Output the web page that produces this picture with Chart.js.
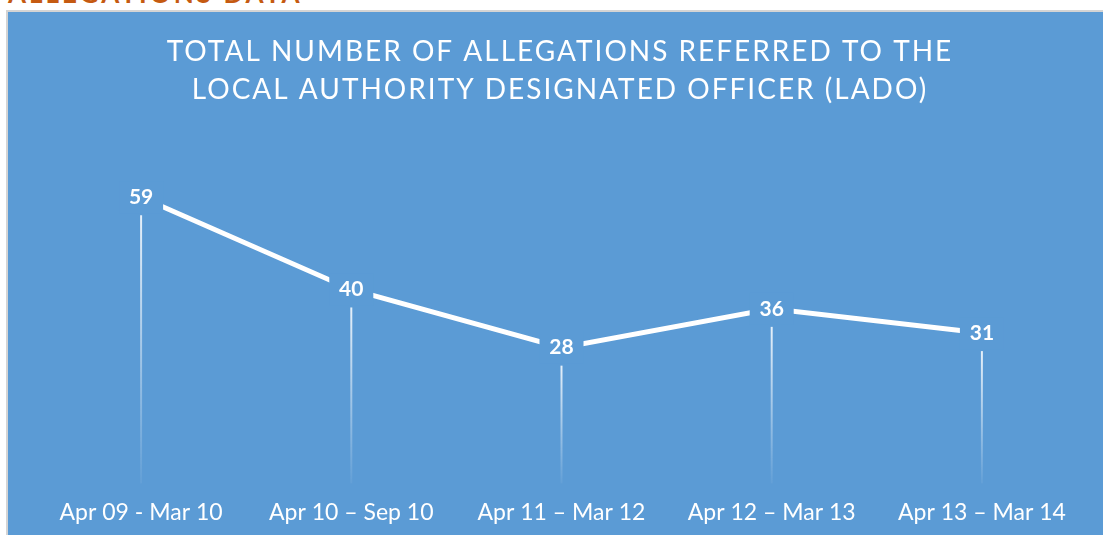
<!DOCTYPE html>
<html>
<head>
<meta charset="utf-8">
<script src="https://cdn.jsdelivr.net/npm/chart.js@4"></script>
<style>
    html, body { margin: 0; padding: 0; background: #fff; overflow: hidden; width: 1103px; height: 535px; }
    #heading { position: absolute; left: 8px; top: -20px; font: bold 26px Lato, sans-serif; line-height: 26px; color: #C55A11; letter-spacing: 3px; white-space: nowrap; }
    #box { position: absolute; left: 6px; top: 10px; width: 1110px; height: 540px; background: #5B9BD5; border-left: 2px solid #d4d4d4; border-top: 2px solid #d4d4d4; }
    #wrap { position: absolute; left: 8px; top: 12px; width: 1102px; height: 530px; }
</style>
</head>
<body>
<div id="heading">ALLEGATIONS DATA</div>
<div id="box"></div>
<div id="wrap"><canvas id="lado"></canvas></div>
<script>
const categories = ['Apr 09 - Mar 10', 'Apr 10 – Sep 10', 'Apr 11 – Mar 12', 'Apr 12 – Mar 13', 'Apr 13 – Mar 14'];
const allegations = [59, 40, 28, 36, 31];
const titleLines = ['TOTAL NUMBER OF ALLEGATIONS REFERRED TO THE', 'LOCAL AUTHORITY DESIGNATED OFFICER (LADO)'];
const BLUE = '#5B9BD5';

// drop lines from each point down to the axis, fading out
const dropLines = {
    id: 'dropLines',
    beforeDatasetsDraw(chart) {
        const ctx = chart.ctx;
        const bottom = chart.scales.y.getPixelForValue(0);
        chart.getDatasetMeta(0).data.forEach(pt => {
            const top = pt.y + 18;
            const grad = ctx.createLinearGradient(0, top, 0, bottom);
            grad.addColorStop(0, 'rgba(255,255,255,0.85)');
            grad.addColorStop(1, 'rgba(255,255,255,0.05)');
            ctx.save();
            ctx.strokeStyle = grad;
            ctx.lineWidth = 2;
            ctx.beginPath();
            ctx.moveTo(pt.x, top);
            ctx.lineTo(pt.x, bottom);
            ctx.stroke();
            ctx.restore();
        });
    }
};

// value labels sitting on the points, with a blue patch behind them
const valueLabels = {
    id: 'valueLabels',
    afterDatasetsDraw(chart) {
        const ctx = chart.ctx;
        const values = chart.data.datasets[0].data;
        ctx.save();
        ctx.font = 'bold 21px Lato, sans-serif';
        ctx.textAlign = 'center';
        ctx.textBaseline = 'middle';
        chart.getDatasetMeta(0).data.forEach((pt, i) => {
            ctx.fillStyle = BLUE;
            ctx.fillRect(pt.x - 22, pt.y - 16, 44, 32);
            ctx.fillStyle = '#fff';
            ctx.fillText(values[i], pt.x, pt.y);
        });
        ctx.restore();
    }
};

// spaced-out title
const spacedTitle = {
    id: 'spacedTitle',
    afterDraw(chart) {
        const ctx = chart.ctx;
        ctx.save();
        ctx.font = '28px Lato, sans-serif';
        ctx.letterSpacing = '2px';
        ctx.fillStyle = '#fff';
        ctx.textAlign = 'center';
        ctx.textBaseline = 'middle';
        titleLines.forEach((line, i) => ctx.fillText(line, chart.width / 2 + 1, 40 + i * 38));
        ctx.restore();
    }
};

const ctx = document.getElementById('lado').getContext('2d');
const ladoChart = new Chart(ctx, {
    type: 'line',
    data: {
        labels: categories,
        datasets: [{
            data: allegations,
            borderColor: '#fff',
            borderWidth: 5,
            pointRadius: 0,
            tension: 0
        }]
    },
    options: {
        responsive: true,
        maintainAspectRatio: false,
        animation: false,
        layout: { padding: { left: 28, right: 23, top: 132, bottom: 1 } },
        plugins: { legend: { display: false }, tooltip: { enabled: false } },
        scales: {
            x: {
                offset: true,
                grid: { display: false, drawTicks: false },
                border: { display: false },
                ticks: { color: '#fff', font: { family: 'Lato, sans-serif', size: 23 }, padding: 15, maxRotation: 0 }
            },
            y: {
                display: false,
                min: 0,
                max: 70
            }
        }
    },
    plugins: [dropLines, valueLabels, spacedTitle]
});
</script>
</body>
</html>
